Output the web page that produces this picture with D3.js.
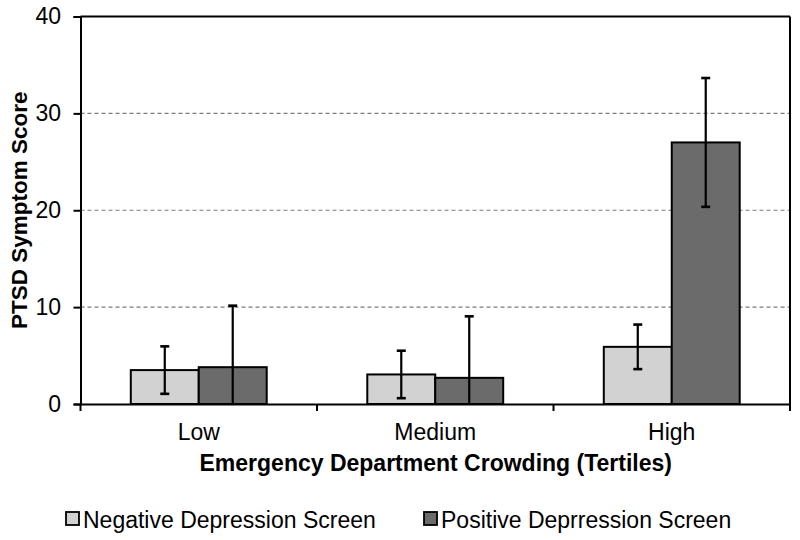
<!DOCTYPE html>
<html>
<head>
<meta charset="utf-8">
<script src="https://cdn.jsdelivr.net/npm/d3@7"></script>
<style>
  html, body { margin: 0; padding: 0; background: #fff; }
  svg { display: block; font-family: "Liberation Sans", Arial, sans-serif; }
</style>
</head>
<body>
<svg id="chart" width="800" height="540"></svg>
<script>
// ---- data ----
const categories = ["Low", "Medium", "High"];
const seriesNames = ["Negative Depression Screen", "Positive Deprression Screen"];
const negativeMeans = [3.5, 3.05, 5.9];
const negativeErrors = [2.45, 2.45, 2.3];
const positiveMeans = [3.8, 2.7, 27.0];
const positiveErrors = [6.35, 6.35, 6.65];
const yTicks = [0, 10, 20, 30, 40];
const seriesColors = ["#d2d2d2", "#6b6b6b"];

(function () {
const FONT = "'Liberation Sans', Arial, sans-serif";
const table = [];
categories.forEach((c, i) => {
  table.push({ cat: c, s: 0, v: negativeMeans[i], e: negativeErrors[i] });
  table.push({ cat: c, s: 1, v: positiveMeans[i], e: positiveErrors[i] });
});

const svg = d3.select("#chart");
const mLeft = 80.5, mRight = 790, mTop = 16.5, mBottom = 404;

const x = d3.scaleBand().domain(categories).range([mLeft, mRight]).padding(0);
const xs = d3.scaleBand().domain([0, 1]).range([0, x.bandwidth()]).paddingInner(0).paddingOuter(0.74);
const y = d3.scaleLinear().domain([0, 40]).range([mBottom, mTop]).clamp(true);

// gridlines
svg.append("g").selectAll("line").data(yTicks.filter(t => t > 0 && t < 40)).join("line")
  .attr("x1", mLeft).attr("x2", mRight)
  .attr("y1", d => y(d)).attr("y2", d => y(d))
  .attr("stroke", "#7a7a7a").attr("stroke-width", 1.2).attr("stroke-dasharray", "4,3");

// top and right border
svg.append("line").attr("x1", mLeft).attr("x2", mRight).attr("y1", y(40)).attr("y2", y(40))
  .attr("stroke", "#000").attr("stroke-width", 2);
svg.append("line").attr("x1", mRight).attr("x2", mRight).attr("y1", y(40)).attr("y2", y(0))
  .attr("stroke", "#000").attr("stroke-width", 2);

// bars
svg.append("g").selectAll("rect").data(table).join("rect")
  .attr("x", d => x(d.cat) + xs(d.s))
  .attr("width", xs.bandwidth())
  .attr("y", d => y(d.v))
  .attr("height", d => y(0) - y(d.v))
  .attr("fill", d => seriesColors[d.s])
  .attr("stroke", "#000").attr("stroke-width", 2);

// error bars
const eb = svg.append("g").attr("stroke", "#000").attr("stroke-width", 2.2);
table.forEach(d => {
  const cx = x(d.cat) + xs(d.s) + xs.bandwidth() / 2;
  const yHi = y(d.v + d.e), yLo = y(Math.max(0, d.v - d.e));
  eb.append("line").attr("x1", cx).attr("x2", cx).attr("y1", yHi).attr("y2", yLo);
  eb.append("line").attr("x1", cx - 4.5).attr("x2", cx + 4.5).attr("y1", yHi).attr("y2", yHi).attr("stroke-width", 2.6);
  if (d.v - d.e > 0) {
    eb.append("line").attr("x1", cx - 4.5).attr("x2", cx + 4.5).attr("y1", yLo).attr("y2", yLo).attr("stroke-width", 2.6);
  }
});

// y axis
const yAxis = d3.axisLeft(y).tickValues(yTicks).tickSize(7).tickPadding(12.5).tickFormat(d3.format("d"));
const gy = svg.append("g").attr("transform", `translate(${mLeft},0)`).call(yAxis);
gy.select(".domain").attr("stroke-width", 2);
gy.selectAll(".tick line").attr("stroke-width", 2);
gy.selectAll(".tick text").attr("font-size", 23).attr("fill", "#000").attr("font-family", FONT);

// x axis
const xAxis = d3.axisBottom(x).tickSize(0).tickPadding(19.5);
const gx = svg.append("g").attr("transform", `translate(0,${mBottom})`).call(xAxis);
gx.select(".domain").attr("stroke-width", 2);
gx.selectAll(".tick text").attr("font-size", 23).attr("fill", "#000").attr("font-family", FONT);
// category boundary ticks
const bounds = categories.map(c => x(c)).concat([x(categories[categories.length - 1]) + x.bandwidth()]);
svg.append("g").selectAll("line").data(bounds).join("line")
  .attr("x1", d => d).attr("x2", d => d).attr("y1", mBottom).attr("y2", mBottom + 7)
  .attr("stroke", "#000").attr("stroke-width", 2);

// axis titles
svg.append("text").attr("x", (mLeft + mRight) / 2 + 0.5).attr("y", 471)
  .attr("text-anchor", "middle").attr("font-size", 23).attr("font-weight", "bold")
  .attr("font-family", FONT)
  .text("Emergency Department Crowding (Tertiles)");
svg.append("text").attr("transform", `translate(27,${(mTop + mBottom) / 2}) rotate(-90)`)
  .attr("text-anchor", "middle").attr("font-size", 22.5).attr("font-weight", "bold")
  .attr("font-family", FONT)
  .text("PTSD Symptom Score");

// legend
const legendX = [66, 424];
const lg = svg.append("g");
seriesNames.forEach((name, i) => {
  lg.append("rect").attr("x", legendX[i]).attr("y", 512).attr("width", 13).attr("height", 13)
    .attr("fill", seriesColors[i]).attr("stroke", "#000").attr("stroke-width", 1.8);
  lg.append("text").attr("x", legendX[i] + 17).attr("y", 528).attr("font-size", 23)
    .attr("font-family", FONT).attr("fill", "#000").text(name);
});
})();
</script>
</body>
</html>
